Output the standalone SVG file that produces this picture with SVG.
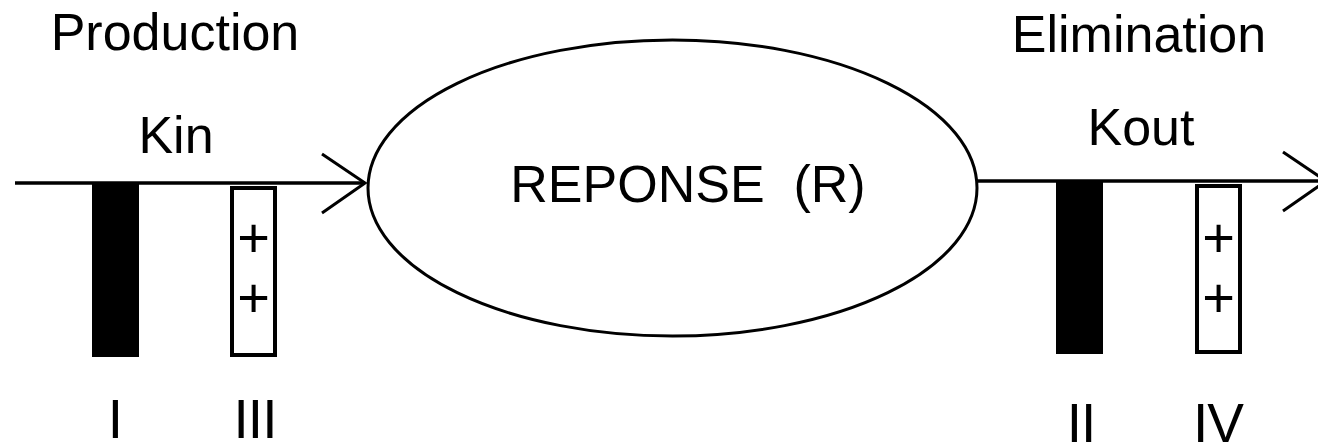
<svg xmlns="http://www.w3.org/2000/svg" width="1318" height="442" viewBox="0 0 1318 442">
  <style>
    text { font-family: "Liberation Sans", Arial, sans-serif; fill: #000; }
    .lbl { font-size: 52px; }
    .num { font-size: 55px; letter-spacing: -1px; }
    .plus { font-size: 56px; }
    .flow { stroke: #000; stroke-width: 3.5; fill: none; }
    .bar { fill: #000; }
    .box { fill: #fff; stroke: #000; stroke-width: 4; }
  </style>
  <defs>
    <marker id="open-arrow" markerUnits="userSpaceOnUse" markerWidth="60" markerHeight="80" viewBox="-50 -40 60 80" refX="0" refY="0" orient="auto" overflow="visible">
      <path d="M -43 -29 L 0 0 L -43 30" fill="none" stroke="#000" stroke-width="3"/>
    </marker>
  </defs>
  <rect width="1318" height="442" fill="#fff"/>

  <!-- headings -->
  <text class="lbl" x="175" y="50" text-anchor="middle">Production</text>
  <text class="lbl" x="176" y="153" text-anchor="middle">Kin</text>
  <text class="lbl" x="1139" y="52" text-anchor="middle">Elimination</text>
  <text class="lbl" x="1141" y="145" text-anchor="middle">Kout</text>

  <!-- flow connectors -->
  <g id="connectors">
    <line class="flow" x1="15" y1="183" x2="365" y2="183" marker-end="url(#open-arrow)"/>
    <line class="flow" x1="977" y1="181" x2="1326" y2="181" marker-end="url(#open-arrow)"/>
  </g>

  <!-- central compartment -->
  <g id="response">
    <ellipse cx="672.5" cy="188" rx="304.5" ry="148" fill="#fff" stroke="#000" stroke-width="3"/>
    <text class="lbl" x="688" y="202" text-anchor="middle" font-size="53" xml:space="preserve">REPONSE  (R)</text>
  </g>

  <!-- inhibition of production -->
  <g id="mech-I">
    <rect class="bar" x="92" y="183" width="47" height="174"/>
    <text class="num" x="115" y="438" text-anchor="middle">I</text>
  </g>

  <!-- stimulation of production -->
  <g id="mech-III">
    <rect class="box" x="232" y="188" width="43" height="167"/>
    <text class="plus" x="253.5" y="257" text-anchor="middle">+</text>
    <text class="plus" x="253.5" y="317" text-anchor="middle">+</text>
    <text class="num" x="255" y="438" text-anchor="middle">III</text>
  </g>

  <!-- inhibition of elimination -->
  <g id="mech-II">
    <rect class="bar" x="1056" y="181" width="47" height="173"/>
    <text class="num" x="1081" y="442" text-anchor="middle">II</text>
  </g>

  <!-- stimulation of elimination -->
  <g id="mech-IV">
    <rect class="box" x="1197" y="186" width="43" height="166"/>
    <text class="plus" x="1218.5" y="257" text-anchor="middle">+</text>
    <text class="plus" x="1218.5" y="317" text-anchor="middle">+</text>
    <text class="num" x="1218" y="442" text-anchor="middle">IV</text>
  </g>
</svg>
